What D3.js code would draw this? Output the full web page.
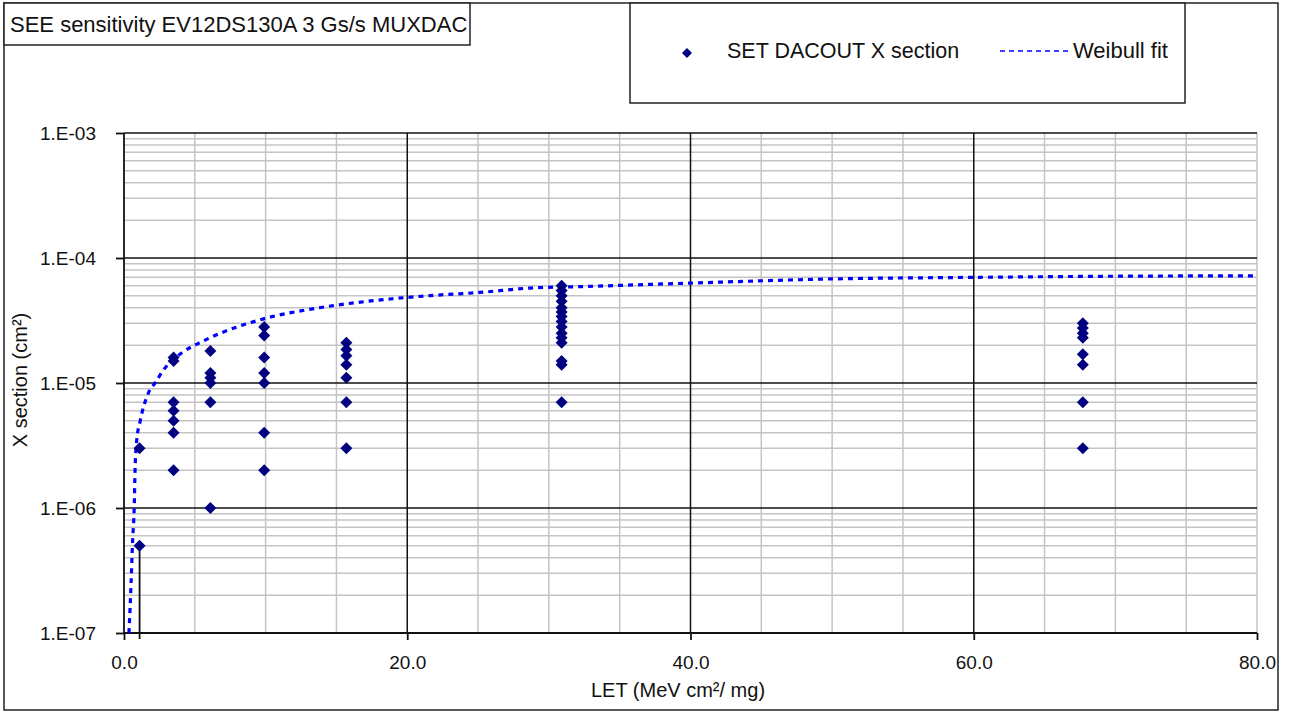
<!DOCTYPE html>
<html>
<head>
<meta charset="utf-8">
<style>
  html, body { margin: 0; padding: 0; background: #fff; }
  svg { display: block; font-family: "Liberation Sans", Arial, sans-serif; }
</style>
<script src="https://cdn.jsdelivr.net/npm/d3@7/dist/d3.min.js"></script>
</head>
<body>
<svg id="chart" width="1289" height="713"></svg>
<script>
// measured points, LET (MeV cm2/mg) vs cross section (cm2)
const pointLET = [
  1.1, 1.1,
  3.5, 3.5, 3.5, 3.5, 3.5, 3.5, 3.5,
  6.1, 6.1, 6.1, 6.1, 6.1, 6.1,
  9.9, 9.9, 9.9, 9.9, 9.9, 9.9, 9.9,
  15.7, 15.7, 15.7, 15.7, 15.7, 15.7, 15.7,
  30.9, 30.9, 30.9, 30.9, 30.9, 30.9, 30.9, 30.9, 30.9, 30.9, 30.9, 30.9, 30.9, 30.9, 30.9,
  67.7, 67.7, 67.7, 67.7, 67.7, 67.7, 67.7, 67.7
];
const pointXS = [
  3e-6, 5e-7,
  1.6e-5, 1.5e-5, 7e-6, 6e-6, 5e-6, 4e-6, 2e-6,
  1.8e-5, 1.2e-5, 1.1e-5, 1e-5, 7e-6, 1e-6,
  2.8e-5, 2.4e-5, 1.6e-5, 1.2e-5, 1e-5, 4e-6, 2e-6,
  2.1e-5, 1.85e-5, 1.65e-5, 1.4e-5, 1.1e-5, 7e-6, 3e-6,
  6e-5, 5.5e-5, 5e-5, 4.5e-5, 4e-5, 3.7e-5, 3.4e-5, 3.1e-5, 2.8e-5, 2.5e-5, 2.3e-5, 2.1e-5, 1.5e-5, 1.4e-5, 7e-6,
  3e-5, 2.75e-5, 2.5e-5, 2.3e-5, 1.7e-5, 1.4e-5, 7e-6, 3e-6
];

// Weibull fit curve
const fitLET = [0.35, 0.5, 0.6, 0.73, 0.78, 0.9, 1.13, 1.72, 2.19, 2.9, 4.07, 5.5, 6.07, 9.6, 13.8, 18.8, 21.6, 25.1, 28.7, 32.2, 40, 50, 60, 70, 80];
const fitXS = [1e-7, 2.5e-7, 5.2e-7, 1.1e-6, 2e-6, 3.5e-6, 4.9e-6, 8.3e-6, 1e-5, 1.32e-5, 1.74e-5, 2.14e-5, 2.3e-5, 3.2e-5, 4e-5, 4.7e-5, 5e-5, 5.3e-5, 5.75e-5, 5.9e-5, 6.3e-5, 6.8e-5, 7e-5, 7.15e-5, 7.2e-5];

// vertical drop line under the lowest point
const dropLET = [1.1];
const dropXS = [5e-7];

const xTickValues = [0, 20, 40, 60, 80];
const xTickLabels = ['0.0', '20.0', '40.0', '60.0', '80.0'];
const yTickValues = [1e-7, 1e-6, 1e-5, 1e-4, 1e-3];
const yTickLabels = ['1.E-07', '1.E-06', '1.E-05', '1.E-04', '1.E-03'];

const chartTitle = 'SEE sensitivity EV12DS130A 3 Gs/s MUXDAC';
const seriesName = 'SET DACOUT X section';
const fitName = 'Weibull fit';
const xTitle = 'LET (MeV cm\u00B2/ mg)';
const yTitle = 'X section (cm\u00B2)';

(function drawChart() {
  const PLOT = { left: 124, right: 1257, top: 133, bottom: 633 };
  const NAVY = '#000080';
  const BLUE = '#0000ff';
  const GRID = '#c4c4c4';
  const TEXT = '#111';

  const svg = d3.select('#chart');

  const x = d3.scaleLinear().domain([0, 80]).range([PLOT.left, PLOT.right]);
  const y = d3.scaleLog().domain([1e-7, 1e-3]).range([PLOT.bottom, PLOT.top]);

  // outer frame
  svg.append('rect')
    .attr('x', 4).attr('y', 3)
    .attr('width', 1274).attr('height', 707)
    .attr('fill', '#fff')
    .attr('stroke', '#222')
    .attr('stroke-width', 1.5);

  // minor grid
  const minorY = [];
  for (let e = -7; e < -3; e++) {
    for (let m = 2; m <= 9; m++) minorY.push(m * Math.pow(10, e));
  }
  const minorX = d3.range(5, 81, 5).filter((v) => v % 20 !== 0 || v === 80);

  const grid = svg.append('g');
  grid.selectAll('line.hy')
    .data(minorY)
    .join('line')
    .attr('x1', PLOT.left).attr('x2', PLOT.right)
    .attr('y1', (d) => y(d)).attr('y2', (d) => y(d))
    .attr('stroke', GRID).attr('stroke-width', 1.5);

  grid.selectAll('line.vx')
    .data(minorX)
    .join('line')
    .attr('x1', (d) => x(d)).attr('x2', (d) => x(d))
    .attr('y1', PLOT.top).attr('y2', PLOT.bottom)
    .attr('stroke', GRID).attr('stroke-width', 1.5);

  // major grid
  grid.selectAll('line.my')
    .data(yTickValues.slice(1))
    .join('line')
    .attr('x1', PLOT.left).attr('x2', PLOT.right)
    .attr('y1', (d) => y(d)).attr('y2', (d) => y(d))
    .attr('stroke', '#111').attr('stroke-width', 1.5);

  grid.selectAll('line.mx')
    .data([20, 40, 60])
    .join('line')
    .attr('x1', (d) => x(d)).attr('x2', (d) => x(d))
    .attr('y1', PLOT.top).attr('y2', PLOT.bottom)
    .attr('stroke', '#111').attr('stroke-width', 1.5);

  // axes
  const xAxis = d3.axisBottom(x)
    .tickValues(xTickValues)
    .tickFormat((d, i) => xTickLabels[i])
    .tickSize(7)
    .tickPadding(16);
  const yAxis = d3.axisLeft(y)
    .tickValues(yTickValues)
    .tickFormat((d, i) => yTickLabels[i])
    .tickSize(8)
    .tickPadding(20);

  const gx = svg.append('g')
    .attr('transform', `translate(0,${PLOT.bottom})`)
    .call(xAxis);
  const gy = svg.append('g')
    .attr('transform', `translate(${PLOT.left},0)`)
    .call(yAxis);

  [gx, gy].forEach((g) => {
    g.select('.domain').attr('stroke', '#111').attr('stroke-width', 1.8);
    g.selectAll('.tick line').attr('stroke', '#111').attr('stroke-width', 1.8);
    g.selectAll('.tick text')
      .attr('fill', TEXT)
      .attr('font-size', 19)
      .attr('font-family', '"Liberation Sans", Arial, sans-serif');
  });
  gx.select('.domain').attr('d', `M${PLOT.left},0H${PLOT.right}`);
  gy.select('.domain').attr('d', `M0,${PLOT.bottom}V${PLOT.top}`);

  // drop line
  svg.append('g')
    .selectAll('line')
    .data(dropLET)
    .join('line')
    .attr('x1', (d) => x(d)).attr('x2', (d) => x(d))
    .attr('y1', (d, i) => y(dropXS[i])).attr('y2', PLOT.bottom + 6)
    .attr('stroke', '#111').attr('stroke-width', 1.8);

  // Weibull fit
  const fitData = fitLET.map((v, i) => [v, fitXS[i]]);
  svg.append('path')
    .datum(fitData)
    .attr('fill', 'none')
    .attr('stroke', BLUE)
    .attr('stroke-width', 3.2)
    .attr('stroke-dasharray', '5,5')
    .attr('d', d3.line()
      .x((d) => x(d[0]))
      .y((d) => y(d[1]))
      .curve(d3.curveMonotoneX));

  // points
  const diamond = 'M0,-6L6,0L0,6L-6,0Z';
  svg.append('g')
    .selectAll('path')
    .data(pointLET.map((v, i) => [v, pointXS[i]]))
    .join('path')
    .attr('d', diamond)
    .attr('transform', (d) => `translate(${x(d[0])},${y(d[1])})`)
    .attr('fill', NAVY);

  // title box
  svg.append('rect')
    .attr('x', 4).attr('y', 3)
    .attr('width', 466).attr('height', 42)
    .attr('fill', '#fff')
    .attr('stroke', '#222')
    .attr('stroke-width', 1.5);
  svg.append('text')
    .attr('x', 10).attr('y', 32)
    .attr('font-size', 22)
    .attr('fill', TEXT)
    .text(chartTitle);

  // legend
  svg.append('rect')
    .attr('x', 630).attr('y', 3)
    .attr('width', 555).attr('height', 100)
    .attr('fill', '#fff')
    .attr('stroke', '#222')
    .attr('stroke-width', 1.5);
  svg.append('path')
    .attr('d', 'M0,-5L5,0L0,5L-5,0Z')
    .attr('transform', 'translate(687,53)')
    .attr('fill', NAVY);
  svg.append('text')
    .attr('x', 727).attr('y', 58)
    .attr('font-size', 21.5)
    .attr('fill', TEXT)
    .text(seriesName);
  svg.append('line')
    .attr('x1', 1000).attr('x2', 1071)
    .attr('y1', 51).attr('y2', 51)
    .attr('stroke', BLUE)
    .attr('stroke-width', 1.6)
    .attr('stroke-dasharray', '5,4');
  svg.append('text')
    .attr('x', 1073).attr('y', 58)
    .attr('font-size', 22)
    .attr('fill', TEXT)
    .text(fitName);

  // axis titles
  svg.append('text')
    .attr('x', 678).attr('y', 697)
    .attr('text-anchor', 'middle')
    .attr('font-size', 20)
    .attr('fill', TEXT)
    .text(xTitle);
  svg.append('text')
    .attr('transform', 'translate(27,380) rotate(-90)')
    .attr('text-anchor', 'middle')
    .attr('font-size', 20)
    .attr('fill', TEXT)
    .text(yTitle);
})();
</script>
</body>
</html>
